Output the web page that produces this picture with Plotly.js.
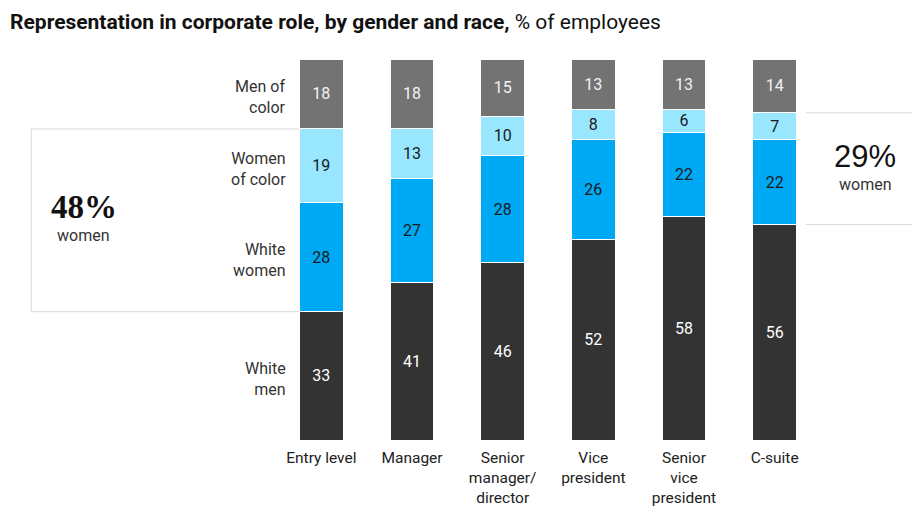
<!DOCTYPE html>
<html>
<head>
<meta charset="utf-8">
<script src="https://cdn.plot.ly/plotly-3.0.1.min.js"></script>
<style>html,body{margin:0;padding:0;background:#fff;}#chart{width:912px;height:508px;}</style>
</head>
<body>
<div id="chart"></div>
<script>
// ---- data ----
var categories = ['Entry level', 'Manager', 'Senior<br>manager/<br>director', 'Vice<br>president', 'Senior<br>vice<br>president', 'C-suite'];
var whiteMen = [33, 41, 46, 52, 58, 56];
var whiteWomen = [28, 27, 28, 26, 22, 22];
var womenOfColor = [19, 13, 10, 8, 6, 7];
var menOfColor = [18, 18, 15, 13, 13, 14];
var seriesNames = ['White<br>men', 'White<br>women', 'Women<br>of color', 'Men of<br>color'];
var womenShareLeft = '48%';
var womenShareRight = '29%';

var SANS = 'Roboto, "Liberation Sans", Arial, sans-serif';
var SERIF = '"Liberation Serif", "DejaVu Serif", serif';

var series = [whiteMen, whiteWomen, womenOfColor, menOfColor];
var colors = ['#333333', '#00a9f4', '#99e6ff', '#737373'];
var textColors = ['#ffffff', '#1a1a1a', '#1a1a1a', '#f2f2f2'];

var traces = series.map(function (vals, i) {
  return {
    type: 'bar',
    x: categories,
    y: vals,
    text: vals.map(String),
    texttemplate: '%{text}',
    textposition: 'inside',
    insidetextanchor: 'middle',
    textangle: 0,
    constraintext: 'none',
    textfont: {family: SANS, size: 16, color: textColors[i]},
    marker: {color: colors[i], line: {color: '#ffffff', width: 1}},
    hoverinfo: 'skip',
    showlegend: false
  };
});

// normalized cumulative boundaries for a category index
function bounds(idx) {
  var total = series.reduce(function (s, a) { return s + a[idx]; }, 0);
  var out = [0], acc = 0;
  series.forEach(function (a) { acc += a[idx]; out.push(acc / total); });
  return out;
}
var bL = bounds(0);
var bR = bounds(categories.length - 1);

var annotations = [];
// series labels next to the first bar
seriesNames.forEach(function (n, i) {
  annotations.push({
    xref: 'paper', yref: 'paper', x: 0.022, y: (bL[i] + bL[i + 1]) / 2, yshift: -3,
    xanchor: 'right', yanchor: 'middle', text: n, showarrow: false, align: 'right',
    font: {family: SANS, size: 16, color: '#333333'}
  });
});
// left women share
annotations.push({xref: 'paper', yref: 'paper', x: -0.353, y: 0.612, xanchor: 'center', yanchor: 'middle',
  text: '<b>' + womenShareLeft + '</b>', showarrow: false, font: {family: SERIF, size: 33, color: '#111111'}});
annotations.push({xref: 'paper', yref: 'paper', x: -0.353, y: 0.536, xanchor: 'center', yanchor: 'middle',
  text: 'women', showarrow: false, font: {family: SANS, size: 16, color: '#333333'}});
// right women share
annotations.push({xref: 'paper', yref: 'paper', x: 1.083, y: 0.745, xanchor: 'center', yanchor: 'middle',
  text: womenShareRight, showarrow: false, font: {family: '"Liberation Sans", Arial, sans-serif', size: 31, color: '#111111'}});
annotations.push({xref: 'paper', yref: 'paper', x: 1.083, y: 0.67, xanchor: 'center', yanchor: 'middle',
  text: 'women', showarrow: false, font: {family: SANS, size: 16, color: '#333333'}});

var lineStyle = {color: '#d9d9d9', width: 1};
var shapes = [
  {type: 'path', xref: 'paper', yref: 'paper', layer: 'below',
   path: 'M 0.042,' + bL[3] + ' L -0.45,' + bL[3] + ' L -0.45,' + bL[1] + ' L 0.042,' + bL[1],
   line: lineStyle},
  {type: 'line', xref: 'paper', yref: 'paper', x0: 0.974, x1: 1.17, y0: bR[3], y1: bR[3], line: lineStyle},
  {type: 'line', xref: 'paper', yref: 'paper', x0: 0.974, x1: 1.17, y0: bR[1], y1: bR[1], line: lineStyle}
];

var layout = {
  width: 912, height: 508,
  margin: {l: 276, r: 92, t: 59, b: 68},
  paper_bgcolor: '#ffffff', plot_bgcolor: '#ffffff',
  barmode: 'stack', barnorm: 'percent', bargap: 0.515,
  title: {
    text: '<b>Representation in corporate role, by gender and race,</b> % of employees',
    x: 0.011, xanchor: 'left', xref: 'container', y: 0.958, yanchor: 'middle', yref: 'container',
    font: {family: SANS, size: 21, color: '#111111'}
  },
  xaxis: {type: 'category', range: [-0.5, 5.5], showgrid: false, zeroline: false, showline: false,
    ticks: '', ticklabelstandoff: 6, tickfont: {family: SANS, size: 15.5, color: '#222222'}, fixedrange: true},
  yaxis: {range: [0, 100], visible: false, fixedrange: true},
  annotations: annotations,
  shapes: shapes,
  showlegend: false
};

Plotly.newPlot('chart', traces, layout, {displayModeBar: false, staticPlot: true});
</script>
</body>
</html>
